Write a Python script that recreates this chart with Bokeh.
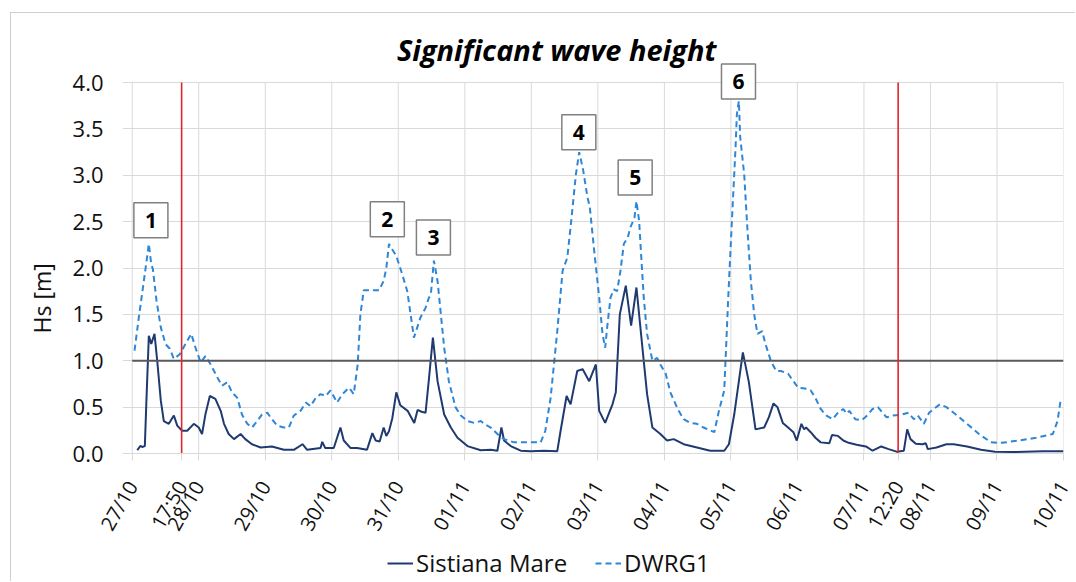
import math
from bokeh.plotting import figure
from bokeh.layouts import column
from bokeh.models import (Range1d, FixedTicker, Label, Legend, LegendItem,
                          NumeralTickFormatter, Title)
from bokeh.embed import file_html
from bokeh.resources import INLINE

# ---------------- data ----------------
# time axis: days since 27/10 00:00
x_tick_days = list(range(15))
x_tick_labels = ["27/10", "28/10", "29/10", "30/10", "31/10", "01/11", "02/11",
                 "03/11", "04/11", "05/11", "06/11", "07/11", "08/11", "09/11", "10/11"]
y_ticks = [0.0, 0.5, 1.0, 1.5, 2.0, 2.5, 3.0, 3.5, 4.0]

# Sistiana Mare (solid)
sm_day = [0.075, 0.125, 0.15, 0.19, 0.215, 0.25, 0.286, 0.335, 0.376, 0.43, 0.475, 0.55,
          0.626, 0.677, 0.75, 0.827, 0.926, 1.0, 1.05, 1.10, 1.167, 1.25, 1.33, 1.38,
          1.45, 1.53, 1.63, 1.70, 1.80, 1.93, 2.1, 2.28, 2.43, 2.56, 2.63, 2.83, 2.857,
          2.9, 3.03, 3.13, 3.18, 3.28, 3.38, 3.53, 3.61, 3.66, 3.72, 3.78, 3.82, 3.86,
          3.91, 3.97, 4.03, 4.14, 4.24, 4.29, 4.35, 4.41, 4.46, 4.52, 4.59, 4.69, 4.79,
          4.89, 5.04, 5.24, 5.39, 5.49, 5.55, 5.59, 5.69, 5.84, 5.99, 6.19, 6.39, 6.44,
          6.53, 6.59, 6.69, 6.77, 6.87, 6.97, 7.02, 7.11, 7.22, 7.27, 7.33, 7.42, 7.50,
          7.58, 7.67, 7.74, 7.82, 7.94, 8.04, 8.14, 8.29, 8.49, 8.69, 8.90, 8.97, 9.05,
          9.18, 9.27, 9.37, 9.50, 9.57, 9.64, 9.70, 9.78, 9.86, 9.94, 9.99, 10.06, 10.10,
          10.13, 10.20, 10.27, 10.35, 10.48, 10.52, 10.61, 10.69, 10.77, 10.89, 11.03,
          11.13, 11.26, 11.36, 11.49, 11.60, 11.65, 11.70, 11.78, 11.88, 11.93, 11.96,
          12.09, 12.24, 12.35, 12.55, 12.76, 12.97, 13.23, 13.42, 13.69, 14.0]
sm_hs = [0.037, 0.083, 0.07, 0.08, 0.6, 1.27, 1.18, 1.29, 1.0, 0.57, 0.35, 0.32,
         0.41, 0.30, 0.245, 0.245, 0.32, 0.28, 0.21, 0.42, 0.62, 0.59, 0.46, 0.32,
         0.21, 0.155, 0.21, 0.155, 0.10, 0.065, 0.075, 0.04, 0.04, 0.10, 0.04, 0.06, 0.125,
         0.06, 0.06, 0.28, 0.14, 0.06, 0.06, 0.04, 0.22, 0.14, 0.13, 0.28, 0.19, 0.24,
         0.38, 0.66, 0.52, 0.46, 0.33, 0.47, 0.45, 0.44, 0.80, 1.25, 0.78, 0.42, 0.28,
         0.17, 0.08, 0.035, 0.04, 0.03, 0.28, 0.14, 0.08, 0.03, 0.025, 0.03, 0.025, 0.245,
         0.62, 0.53, 0.89, 0.91, 0.78, 0.96, 0.46, 0.33, 0.53, 0.66, 1.50, 1.81, 1.38,
         1.79, 1.14, 0.64, 0.28, 0.21, 0.14, 0.155, 0.10, 0.065, 0.03, 0.03, 0.10, 0.42,
         1.09, 0.77, 0.26, 0.28, 0.39, 0.54, 0.50, 0.33, 0.28, 0.23, 0.14, 0.32, 0.26,
         0.28, 0.23, 0.17, 0.12, 0.11, 0.20, 0.19, 0.14, 0.115, 0.094, 0.076,
         0.03, 0.076, 0.05, 0.02, 0.03, 0.26, 0.155, 0.105, 0.10, 0.11, 0.047,
         0.065, 0.10, 0.10, 0.076, 0.04, 0.02, 0.015, 0.02, 0.025, 0.025]

# DWRG1 (dashed)
dw_day = [0.035, 0.10, 0.175, 0.25, 0.286, 0.31, 0.365, 0.43, 0.50, 0.565, 0.626, 0.716,
          0.80, 0.887, 0.952, 1.03, 1.10, 1.18, 1.28, 1.35, 1.43, 1.50, 1.58, 1.65, 1.73,
          1.80, 1.88, 1.95, 2.03, 2.10, 2.18, 2.28, 2.355, 2.43, 2.53, 2.61, 2.68, 2.76,
          2.83, 2.91, 2.98, 3.08, 3.16, 3.26, 3.33, 3.39, 3.43, 3.46, 3.48, 3.71, 3.78,
          3.82, 3.86, 3.91, 3.97, 4.06, 4.135, 4.235, 4.335, 4.41, 4.46, 4.49, 4.535,
          4.59, 4.64, 4.69, 4.76, 4.86, 4.94, 5.04, 5.14, 5.24, 5.31, 5.39, 5.49, 5.59,
          5.74, 5.99, 6.14, 6.21, 6.29, 6.39, 6.47, 6.54, 6.59, 6.67, 6.72, 6.78, 6.84,
          6.88, 6.94, 7.02, 7.07, 7.11, 7.14, 7.19, 7.24, 7.29, 7.34, 7.39, 7.45, 7.49,
          7.55, 7.58, 7.62, 7.65, 7.69, 7.74, 7.82, 7.89, 7.94, 8.02, 8.09, 8.20, 8.29,
          8.39, 8.49, 8.59, 8.75, 8.82, 8.90, 8.96, 9.02, 9.07, 9.09, 9.12, 9.14, 9.20,
          9.25, 9.30, 9.35, 9.40, 9.47, 9.52, 9.60, 9.68, 9.75, 9.86, 9.94, 10.01, 10.12,
          10.20, 10.27, 10.35, 10.43, 10.53, 10.61, 10.69, 10.74, 10.78, 10.87, 10.97,
          11.05, 11.13, 11.21, 11.28, 11.34, 11.44, 11.57, 11.67, 11.75, 11.81, 11.90,
          11.98, 12.14, 12.24, 12.40, 12.55, 12.73, 12.91, 13.07, 13.33, 13.59, 13.84,
          13.91, 13.96]
dw_hs = [1.11, 1.47, 1.86, 2.26, 2.04, 1.99, 1.65, 1.36, 1.18, 1.13, 1.02, 1.07,
         1.18, 1.29, 1.14, 0.98, 1.05, 0.96, 0.82, 0.73, 0.77, 0.66, 0.60, 0.42, 0.32,
         0.28, 0.35, 0.42, 0.44, 0.37, 0.30, 0.28, 0.28, 0.41, 0.46, 0.55, 0.51, 0.60,
         0.64, 0.62, 0.68, 0.55, 0.64, 0.71, 0.64, 0.96, 1.50, 1.65, 1.76, 1.76, 1.86,
         2.0, 2.26, 2.20, 2.13, 1.93, 1.75, 1.25, 1.47, 1.57, 1.68, 1.72, 2.08,
         1.86, 1.50, 1.14, 0.78, 0.50, 0.41, 0.35, 0.33, 0.35, 0.31, 0.28, 0.21, 0.155,
         0.12, 0.12, 0.12, 0.245, 0.60, 1.32, 1.97, 2.11, 2.44, 3.01, 3.25, 3.05, 2.78,
         2.65, 2.22, 1.68, 1.29, 1.14, 1.36, 1.68, 1.77, 1.75, 1.97, 2.26, 2.33, 2.44,
         2.54, 2.72, 2.51, 2.15, 1.68, 1.29, 1.0, 1.03, 0.96, 0.86, 0.66, 0.48, 0.37,
         0.33, 0.32, 0.28, 0.23, 0.46, 0.68, 1.68, 2.58, 3.30, 3.66, 3.80, 3.41, 3.01,
         2.40, 1.86, 1.50, 1.29, 1.32, 1.18, 1.0, 0.89, 0.89, 0.86, 0.78, 0.71, 0.70,
         0.68, 0.60, 0.48, 0.41, 0.37, 0.44, 0.48, 0.43, 0.46, 0.37, 0.36,
         0.41, 0.48, 0.50, 0.44, 0.39, 0.41, 0.42, 0.44, 0.37, 0.41, 0.32,
         0.44, 0.53, 0.50, 0.41, 0.32, 0.21, 0.12, 0.115, 0.14, 0.17, 0.21,
         0.35, 0.59]

threshold_hs = 1.0
event_day = [0.743, 11.514]          # 27/10 17:50 and 07/11 12:20
event_text = ["17:50", "12:20"]
peak_text = ["1", "2", "3", "4", "5", "6"]
peak_box_day = [0.281, 3.835, 4.528, 6.714, 7.561, 9.114]
peak_box_hs = [2.516, 2.527, 2.329, 3.463, 2.975, 4.01]
series_names = ["Sistiana Mare", "DWRG1"]

# ---------------- styling ----------------
FONT = "Open Sans"
NAVY = "#1F3A70"
LIGHT = "#2E86D6"
GRID = "#D9D9D9"
TXT = "#111111"

# main chart; frame top is extended above 4.0 so the title and box 6 sit inside it
p = figure(width=1064, height=532, output_backend="svg", toolbar_location=None,
           x_range=Range1d(-0.146, 14.0), y_range=Range1d(0.0, 4.615),
           min_border_left=111, min_border_right=12, min_border_top=12,
           min_border_bottom=92, outline_line_color=None,
           background_fill_color="white", border_fill_color="white")

# x axis (day ticks plus the two event times)
p.xaxis.ticker = FixedTicker(ticks=x_tick_days + event_day)
overrides = {d: lab for d, lab in zip(x_tick_days, x_tick_labels)}
overrides.update({d: t for d, t in zip(event_day, event_text)})
p.xaxis.major_label_overrides = overrides
p.xaxis.major_label_orientation = math.pi / 3
p.xaxis.axis_line_color = GRID
p.xaxis.major_tick_line_color = GRID
p.xaxis.major_tick_out = 7
p.xaxis.major_tick_in = 0
p.xaxis.minor_tick_line_color = None
p.xaxis.major_label_standoff = 22
p.xaxis.major_label_text_font = FONT
p.xaxis.major_label_text_font_size = "20px"
p.xaxis.major_label_text_color = TXT

# y axis
p.yaxis.ticker = FixedTicker(ticks=y_ticks)
p.yaxis.formatter = NumeralTickFormatter(format="0.0")
p.yaxis.axis_line_color = None
p.yaxis.major_tick_line_color = None
p.yaxis.minor_tick_line_color = None
p.yaxis.major_tick_out = 0
p.yaxis.major_tick_in = 0
p.yaxis.major_label_standoff = 19
p.yaxis.major_label_text_font = FONT
p.yaxis.major_label_text_font_size = "22px"
p.yaxis.major_label_text_color = TXT

# y-axis title, as a side title so it can be shifted along the axis
p.add_layout(Title(text="Hs [m]", align="left", offset=120, standoff=23,
                   text_font=FONT, text_font_size="23px", text_font_style="normal",
                   text_color=TXT), "left")

# grid: horizontal lines from the y ticks; vertical lines only up to 4.0
p.xgrid.visible = False
p.ygrid.ticker = FixedTicker(ticks=y_ticks)
p.ygrid.grid_line_color = GRID
p.segment(x0=x_tick_days, y0=[y_ticks[0]] * len(x_tick_days),
          x1=x_tick_days, y1=[y_ticks[-1]] * len(x_tick_days),
          line_color=GRID, line_width=1)

# series
r_sm = p.line(sm_day, sm_hs, line_color=NAVY, line_width=2)
r_dw = p.line(dw_day, dw_hs, line_color=LIGHT, line_width=2, line_dash="6 4")

# threshold line
p.line([x_tick_days[0], x_tick_days[-1]], [threshold_hs, threshold_hs],
       line_color="#595959", line_width=2)

# event lines
p.segment(x0=event_day, y0=[y_ticks[0]] * len(event_day),
          x1=event_day, y1=[y_ticks[-1]] * len(event_day),
          line_color="#E0262B", line_width=1.6)

# numbered storm boxes
for t, d, h in zip(peak_text, peak_box_day, peak_box_hs):
    p.add_layout(Label(x=d, y=h, text=t, text_align="center", text_baseline="middle",
                       text_font=FONT, text_font_size="21px", text_font_style="bold",
                       text_color="#000000",
                       border_line_color="#808080", border_line_width=1.5,
                       background_fill_color="white",
                       padding=dict(left=11, right=11, top=10, bottom=10)))

# title
p.add_layout(Label(x=6.38, y=4.36, text="Significant wave height", text_align="center",
                   text_baseline="alphabetic", text_font=FONT, text_font_size="29px",
                   text_font_style="bold italic", text_color="#000000"))

# ---------------- legend strip below the chart ----------------
# the strip's ranges keep its copies of the series out of view; only the legend shows
pl = figure(width=1064, height=36, output_backend="svg", toolbar_location=None,
            x_range=Range1d(0, 1), y_range=Range1d(10, 11), min_border=0,
            x_axis_location=None, y_axis_location=None, title=None,
            outline_line_color=None, background_fill_color="white",
            border_fill_color="white")
pl.grid.visible = False
k_sm = pl.line(sm_day, sm_hs, line_color=NAVY, line_width=2)
k_dw = pl.line(dw_day, dw_hs, line_color=LIGHT, line_width=2, line_dash="6 4")
legend = Legend(items=[LegendItem(label=series_names[0], renderers=[k_sm]),
                       LegendItem(label=series_names[1], renderers=[k_dw])],
                orientation="horizontal", location=(265, 2),
                label_text_font=FONT, label_text_font_size="24px", label_text_color=TXT,
                glyph_width=26, label_standoff=3, spacing=28, padding=0, margin=0,
                border_line_color=None, background_fill_alpha=0)
pl.add_layout(legend)

layout = column(p, pl, spacing=0)
layout.styles = {"margin-left": "10px", "margin-top": "12px",
                 "border-left": "1px solid #CFCFCF", "border-top": "1px solid #CFCFCF"}

open("out.html", "w").write(file_html(layout, INLINE))
